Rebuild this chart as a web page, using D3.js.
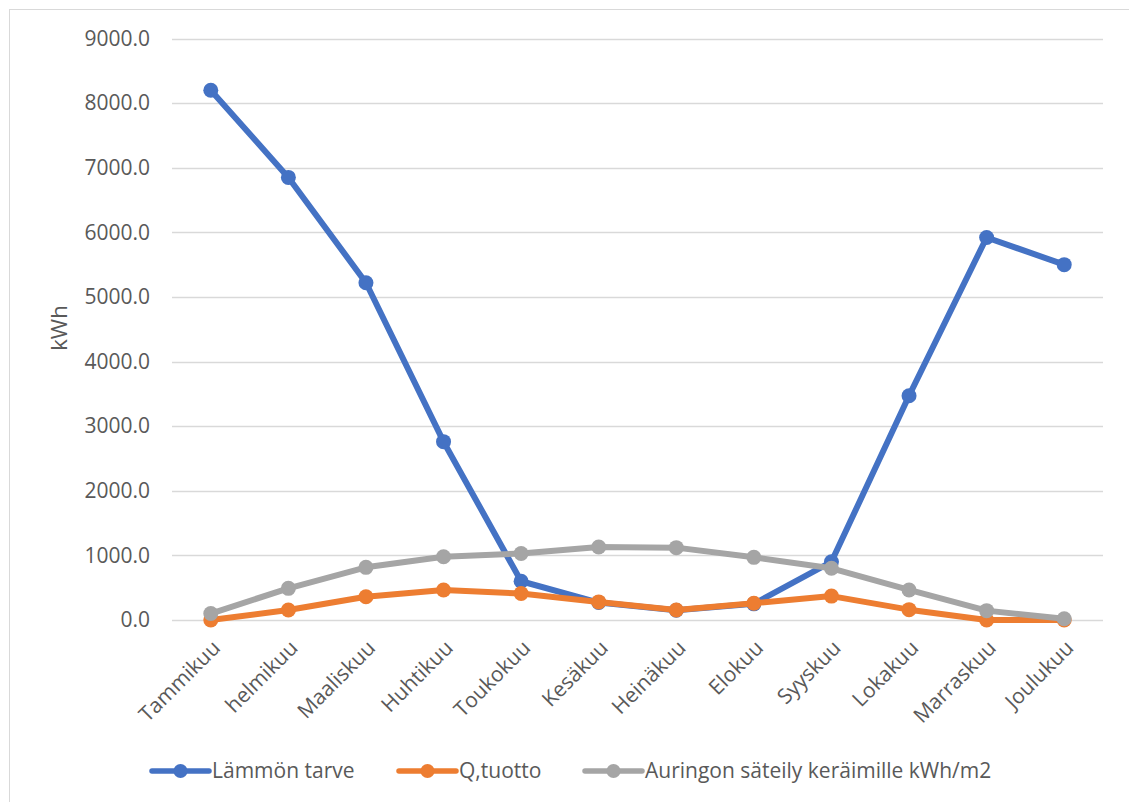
<!DOCTYPE html>
<html>
<head>
<meta charset="utf-8">
<script src="https://cdn.jsdelivr.net/npm/d3@7"></script>
<style>
  html, body { margin: 0; padding: 0; background: #ffffff; }
  svg { display: block; }
  text { font-family: "Open Sans", "Noto Sans", sans-serif; fill: #595959; }
</style>
</head>
<body>
<svg id="chart" width="1129" height="802"></svg>
<script>
// Months (Finnish)
const months = ["Tammikuu", "helmikuu", "Maaliskuu", "Huhtikuu", "Toukokuu", "Kesäkuu",
                "Heinäkuu", "Elokuu", "Syyskuu", "Lokakuu", "Marraskuu", "Joulukuu"];

// Series values, kWh
const lammonTarve = [8200, 6850, 5220, 2760, 600, 270, 150, 250, 900, 3470, 5920, 5500];
const qTuotto     = [0, 155, 360, 465, 410, 280, 155, 260, 370, 160, 0, 0];
const auringonSateily = [100, 490, 815, 980, 1030, 1130, 1120, 970, 800, 465, 145, 20];

// Y axis ticks
const yTicks = [0, 1000, 2000, 3000, 4000, 5000, 6000, 7000, 8000, 9000];

const seriesNames = ["Lämmön tarve", "Q,tuotto", "Auringon säteily keräimille kWh/m2"];
const seriesColors = ["#4472C4", "#ED7D31", "#A5A5A5"];
const seriesData = [lammonTarve, qTuotto, auringonSateily];

const svg = d3.select("#chart");

// Chart frame
svg.append("rect")
  .attr("x", 9.5).attr("y", 9.5)
  .attr("width", 1140).attr("height", 820)
  .attr("fill", "none")
  .attr("stroke", "#D9D9D9")
  .attr("stroke-width", 1);

const plot = { left: 172, right: 1103, top: 38.5, bottom: 620 };

const x = d3.scalePoint()
  .domain(months)
  .range([plot.left, plot.right])
  .padding(0.5);

const y = d3.scaleLinear()
  .domain([0, 9000])
  .range([plot.bottom, plot.top]);

// Horizontal gridlines
svg.append("g")
  .selectAll("line")
  .data(yTicks)
  .join("line")
  .attr("x1", plot.left).attr("x2", plot.right)
  .attr("y1", d => Math.round(y(d)) + 0.5)
  .attr("y2", d => Math.round(y(d)) + 0.5)
  .attr("stroke", "#D9D9D9")
  .attr("stroke-width", 1.5);

// Y axis labels
const yAxis = d3.axisLeft(y)
  .tickValues(yTicks)
  .tickFormat(d3.format(".1f"))
  .tickSize(0)
  .tickPadding(0);

const yG = svg.append("g")
  .attr("transform", "translate(150,0)")
  .call(yAxis);
yG.select(".domain").remove();
yG.selectAll("text")
  .attr("font-size", "21px")
  .attr("font-family", "\"Open Sans\", sans-serif")
  .attr("fill", "#595959");

// Y axis title
svg.append("text")
  .attr("transform", "translate(67,328) rotate(-90)")
  .attr("text-anchor", "middle")
  .attr("font-size", "22px")
  .text("kWh");

// X axis labels, rotated
const xAxis = d3.axisBottom(x).tickSize(0).tickPadding(0);
const xG = svg.append("g")
  .attr("transform", `translate(0,${plot.bottom})`)
  .call(xAxis);
xG.select(".domain").remove();
xG.selectAll(".tick text")
  .attr("font-size", "21px")
  .attr("font-family", "\"Open Sans\", sans-serif")
  .attr("fill", "#595959")
  .attr("text-anchor", "end")
  .attr("dy", "0.35em")
  .attr("transform", "translate(5,24) rotate(-45)");

// Lines and markers, drawn in series order
const line = d3.line()
  .x((d, i) => x(months[i]))
  .y(d => y(d));

seriesData.forEach((vals, s) => {
  const g = svg.append("g");
  g.append("path")
    .datum(vals)
    .attr("d", line)
    .attr("fill", "none")
    .attr("stroke", seriesColors[s])
    .attr("stroke-width", 6)
    .attr("stroke-linejoin", "round")
    .attr("stroke-linecap", "round");
  g.selectAll("circle")
    .data(vals)
    .join("circle")
    .attr("cx", (d, i) => x(months[i]))
    .attr("cy", d => y(d))
    .attr("r", 7.5)
    .attr("fill", seriesColors[s]);
});

// Legend
const legendTextX = [212, 459, 645];
const legendY = 771;
const legend = svg.append("g");
seriesNames.forEach((name, s) => {
  const tx = legendTextX[s];
  const x0 = tx - 60, x1 = tx - 3;
  legend.append("line")
    .attr("x1", x0).attr("x2", x1)
    .attr("y1", legendY).attr("y2", legendY)
    .attr("stroke", seriesColors[s])
    .attr("stroke-width", 5.5)
    .attr("stroke-linecap", "round");
  legend.append("circle")
    .attr("cx", (x0 + x1) / 2)
    .attr("cy", legendY)
    .attr("r", 7)
    .attr("fill", seriesColors[s]);
  legend.append("text")
    .attr("x", tx)
    .attr("y", legendY)
    .attr("dy", "0.35em")
    .attr("font-size", "21px")
    .text(name);
});
</script>
</body>
</html>
